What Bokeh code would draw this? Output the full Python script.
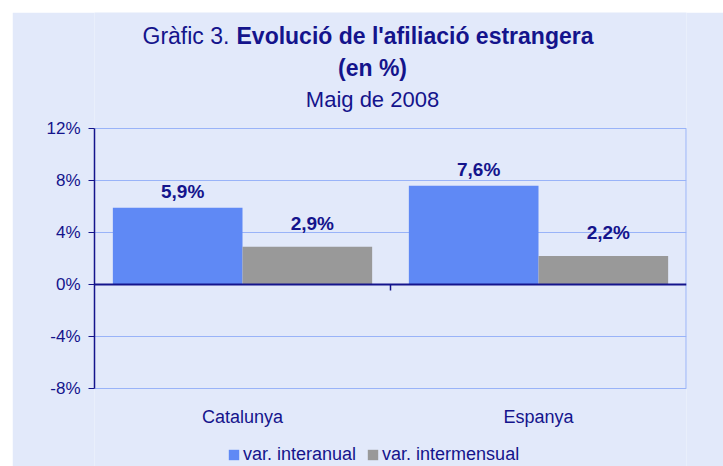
from bokeh.plotting import figure
from bokeh.models import (ColumnDataSource, FactorRange, Range1d, FixedTicker, PrintfTickFormatter,
                          Span, Legend, LegendItem, Label, Spacer)
from bokeh.transform import dodge
from bokeh.layouts import column, row
from bokeh.core.properties import value
from bokeh.embed import file_html
from bokeh.resources import INLINE

title_lead = "Gràfic 3."
title_main = "Evolució de l'afiliació estrangera"
title_unit = "(en %)"
subtitle = "Maig de 2008"
categories = ["Catalunya", "Espanya"]
interanual = [5.9, 7.6]
intermensual = [2.9, 2.2]
interanual_labels = ["5,9%", "7,6%"]
intermensual_labels = ["2,9%", "2,2%"]
series_names = ["var. interanual", "var. intermensual"]
y_ticks = [-8, -4, 0, 4, 8, 12]

NAVY = "#14148C"
BG = "#E2E9FA"
GRID = "#99B3F8"
BLUE = "#5F89F5"
GRAY = "#999999"
FONT = "Liberation Sans"

# layout geometry (pixels): plot area 260 px tall for the 20-point axis span
W, H = 711, 454
TOP_PAD, BOTTOM_PAD = 116, 78
PX_PER_UNIT = 260 / (y_ticks[-1] - y_ticks[0])
y_lo = y_ticks[0] - BOTTOM_PAD / PX_PER_UNIT
y_hi = y_ticks[-1] + TOP_PAD / PX_PER_UNIT

src = ColumnDataSource(dict(cat=categories, a=interanual, b=intermensual,
                            la=interanual_labels, lb=intermensual_labels))

p = figure(width=W, height=H, output_backend="svg", toolbar_location=None,
           x_range=FactorRange(*categories, range_padding=0), y_range=Range1d(y_lo, y_hi),
           min_border_left=82, min_border_right=37, min_border_top=0, min_border_bottom=0)
p.background_fill_color = BG
p.border_fill_color = BG
p.outline_line_color = None

r1 = p.vbar(x=dodge("cat", -0.219, range=p.x_range), top="a", width=0.438, source=src,
            fill_color=BLUE, line_color=None)
r2 = p.vbar(x=dodge("cat", 0.219, range=p.x_range), top="b", width=0.438, source=src,
            fill_color=GRAY, line_color=None)

for col, ycol, off, yoff in (("la", "a", -0.219, -16), ("lb", "b", 0.219, -23)):
    p.text(x=dodge("cat", off, range=p.x_range), y=ycol, text=col, source=src,
           text_font=value(FONT), text_font_size="19px", text_font_style="bold",
           text_color=NAVY, text_align="center", text_baseline="alphabetic",
           x_offset=5, y_offset=yoff)

# right border of the plot area
edge = ColumnDataSource(dict(cat=[categories[-1]], y0=[y_ticks[0]], y1=[y_ticks[-1]]))
p.segment(x0=dodge("cat", 0.5, range=p.x_range), x1=dodge("cat", 0.5, range=p.x_range),
          y0="y0", y1="y1", source=edge, line_color=GRID, line_width=2)

# zero line and category separator tick
p.add_layout(Span(location=0, dimension="width", line_color=NAVY, line_width=2))
sep = ColumnDataSource(dict(cat=[categories[0]], y0=[0], y1=[-6 / PX_PER_UNIT]))
p.segment(x0=dodge("cat", 0.5, range=p.x_range), x1=dodge("cat", 0.5, range=p.x_range),
          y0="y0", y1="y1", source=sep, line_color=NAVY, line_width=1.5)

# grid
p.xgrid.grid_line_color = None
p.ygrid.grid_line_color = GRID
p.ygrid.grid_line_width = 1
p.ygrid.ticker = FixedTicker(ticks=y_ticks)

# y axis
p.yaxis.ticker = FixedTicker(ticks=y_ticks)
p.yaxis.bounds = (y_ticks[0], y_ticks[-1])
p.yaxis.formatter = PrintfTickFormatter(format="%d%%")
p.yaxis.axis_line_color = NAVY
p.yaxis.axis_line_width = 1.5
p.yaxis.major_tick_line_color = NAVY
p.yaxis.major_tick_out = 6
p.yaxis.major_tick_in = 0
p.yaxis.minor_tick_line_color = None
p.yaxis.major_label_text_font = FONT
p.yaxis.major_label_text_font_size = "17px"
p.yaxis.major_label_text_color = NAVY
p.yaxis.major_label_standoff = 8

# x axis (category labels under the plot area)
p.xaxis.fixed_location = y_ticks[0]
p.xaxis.axis_line_color = None
p.xaxis.major_tick_line_color = None
p.xaxis.minor_tick_line_color = None
p.xaxis.major_label_text_font = FONT
p.xaxis.major_label_text_font_size = "18px"
p.xaxis.major_label_text_color = NAVY
p.xaxis.major_label_standoff = 12

# legend
legend = Legend(items=[LegendItem(label=series_names[0], renderers=[r1]),
                       LegendItem(label=series_names[1], renderers=[r2])],
                orientation="horizontal", location=(133, 1),
                glyph_width=13, glyph_height=13, label_height=13, label_width=10,
                label_standoff=3, spacing=10, padding=0, margin=0,
                background_fill_alpha=0, border_line_color=None,
                label_text_font=FONT, label_text_font_size="18px", label_text_color=NAVY)
p.add_layout(legend, "center")

# title (screen units: from plot-area left / bottom)
def title_label(x, y, text, size, bold, align):
    return Label(x=x, y=y, x_units="screen", y_units="screen", text=text,
                 text_font=FONT, text_font_size=size, text_color=NAVY,
                 text_font_style="bold" if bold else "normal",
                 text_align=align, text_baseline="alphabetic")

p.add_layout(title_label(48, 431, title_lead, "23px", False, "left"))
p.add_layout(title_label(142, 431, title_main, "23px", True, "left"))
p.add_layout(title_label(278, 399, title_unit, "23px", True, "center"))
p.add_layout(title_label(278, 367, subtitle, "22px", False, "center"))

root = column(Spacer(width=723, height=12), row(Spacer(width=12, height=H), p))
open("out.html", "w").write(file_html(root, INLINE))
